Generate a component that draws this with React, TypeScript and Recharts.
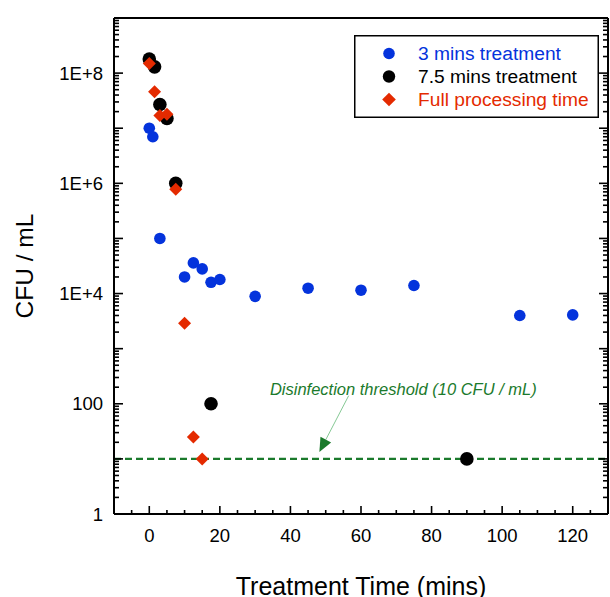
import { ScatterChart, Scatter, XAxis, YAxis, ReferenceLine, ReferenceDot, Legend } from "recharts"

const FONT = "Arial, 'Liberation Sans', sans-serif"
const BLUE = "#0433dc"
const BLACK = "#000000"
const RED = "#e42a00"
const GREEN = "#1b7a2c"

// 3 mins treatment
const TIME_3 = [0, 1, 3, 10, 12.5, 15, 17.5, 20, 30, 45, 60, 75, 105, 120]
const CFU_3 = [1e7, 7e6, 1e5, 2e4, 3.6e4, 2.8e4, 1.6e4, 1.8e4, 8.9e3, 1.25e4, 1.15e4, 1.4e4, 4e3, 4.1e3]

// 7.5 mins treatment
const TIME_75 = [0, 1.5, 3, 5, 7.5, 17.5, 90]
const CFU_75 = [1.8e8, 1.3e8, 2.7e7, 1.5e7, 1e6, 100, 10]

// full processing time
const TIME_FULL = [0, 1.5, 3, 5, 7.5, 10, 12.5, 15]
const CFU_FULL = [1.5e8, 4.6e7, 1.7e7, 1.8e7, 7.8e5, 2.9e3, 25, 10]

const SERIES_NAMES = ["3 mins treatment", "7.5 mins treatment", "Full processing time"]
const SERIES_COLORS = [BLUE, BLACK, RED]

const THRESHOLD = 10
const NOTE = "Disinfection threshold (10 CFU / mL)"
const NOTE_AT = { x: 72, y: 186 }
const ARROW_FROM = { x: 56.5, y: 140 }
const ARROW_TO = { x: 48.2, y: 13.3 }

const X_TICKS = [-10, -5, 0, 5, 10, 15, 20, 25, 30, 35, 40, 45, 50, 55, 60, 65, 70, 75, 80, 85, 90, 95, 100, 105, 110, 115, 120, 125, 130]
const X_LABELS = [0, 20, 40, 60, 80, 100, 120]
const Y_DECADES = [1, 10, 100, 1e3, 1e4, 1e5, 1e6, 1e7, 1e8, 1e9]
const Y_LABELS: Record<number, string> = { 1: "1", 100: "100", 10000: "1E+4", 1000000: "1E+6", 100000000: "1E+8" }
const Y_TICKS = Y_DECADES.flatMap((d) => (d === 1e9 ? [d] : [1, 2, 3, 4, 5, 6, 7, 8, 9].map((m) => m * d)))

const toPoints = (xs: number[], ys: number[]) => xs.map((t, i) => ({ t, cfu: ys[i] }))

const isDecade = (v: number) => Y_DECADES.includes(v)

function BottomTick({ x, y, payload }: any) {
  const v = payload.value
  const len = v % 20 === 0 ? 8 : 4
  return (
    <g>
      <line x1={x} x2={x} y1={y} y2={y - len} stroke="#000" strokeWidth={1.6} />
      {X_LABELS.includes(v) && (
        <text x={x} y={y + 21} textAnchor="middle" dominantBaseline="central" fontSize={18.5} fontFamily={FONT} fill="#000">
          {v}
        </text>
      )}
    </g>
  )
}

function TopTick({ x, y, payload }: any) {
  const len = payload.value % 20 === 0 ? 8 : 4
  return <line x1={x} x2={x} y1={y} y2={y + len} stroke="#000" strokeWidth={1.6} />
}

function LeftTick({ x, y, payload }: any) {
  const v = payload.value
  const len = isDecade(v) ? 9 : 5
  return (
    <g>
      <line x1={x} x2={x + len} y1={y} y2={y} stroke="#000" strokeWidth={1.6} />
      {Y_LABELS[v] && (
        <text x={x - 11} y={y} textAnchor="end" dominantBaseline="central" fontSize={18.5} fontFamily={FONT} fill="#000">
          {Y_LABELS[v]}
        </text>
      )}
    </g>
  )
}

function RightTick({ x, y, payload }: any) {
  const len = isDecade(payload.value) ? 9 : 5
  return <line x1={x} x2={x - len} y1={y} y2={y} stroke="#000" strokeWidth={1.6} />
}

const circle = (r: number, color: string) => (p: any) => <circle cx={p.cx} cy={p.cy} r={r} fill={color} />
const diamond = (s: number, color: string) => (p: any) => (
  <polygon
    points={`${p.cx},${p.cy - s} ${p.cx + s},${p.cy} ${p.cx},${p.cy + s} ${p.cx - s},${p.cy}`}
    fill={color}
  />
)

function Arrow(p: any) {
  const { x1, y1, x2, y2 } = p
  const dx = x2 - x1
  const dy = y2 - y1
  const d = Math.sqrt(dx * dx + dy * dy)
  const ux = dx / d
  const uy = dy / d
  const hl = 14
  const hw = 6
  const bx = x2 - ux * hl
  const by = y2 - uy * hl
  return (
    <g>
      <line x1={x1} y1={y1} x2={bx} y2={by} stroke="#86c995" strokeWidth={1} />
      <polygon
        points={`${x2},${y2} ${bx - uy * hw},${by + ux * hw} ${bx + uy * hw},${by - ux * hw}`}
        fill={GREEN}
      />
    </g>
  )
}

function LegendBox() {
  const marks = [circle(5.8, BLUE), circle(6.2, BLACK), diamond(6.8, RED)]
  return (
    <svg width={245} height={83} style={{ display: "block" }}>
      <rect x={0.75} y={0.75} width={243.5} height={81.5} fill="#fff" stroke="#000" strokeWidth={1.5} />
      {SERIES_NAMES.map((name, i) => {
        const cy = 18.5 + i * 23
        return (
          <g key={name}>
            {marks[i]({ cx: 35, cy })}
            <text x={64} y={cy} dominantBaseline="central" fontSize={19.2} fontFamily={FONT} fill={SERIES_COLORS[i]}>
              {name}
            </text>
          </g>
        )
      })}
    </svg>
  )
}

export default function App() {
  return (
    <div style={{ position: "absolute", left: 0, top: 0 }}>
      <ScatterChart width={610} height={597} margin={{ top: 17, right: 0, bottom: 0, left: 0 }}>
        <XAxis
          xAxisId="b"
          type="number"
          dataKey="t"
          domain={[-10, 130]}
          ticks={X_TICKS}
          interval={0}
          allowDataOverflow
          height={83}
          tickSize={0}
          tickMargin={0}
          tickLine={false}
          tick={<BottomTick />}
          axisLine={{ stroke: "#000", strokeWidth: 2 }}
          label={{
            value: "Treatment Time (mins)",
            position: "insideBottom",
            offset: 2,
            style: { fontSize: 25, fontFamily: FONT, fill: "#000" },
          }}
        />
        <XAxis
          xAxisId="t"
          orientation="top"
          type="number"
          domain={[-10, 130]}
          ticks={X_TICKS}
          interval={0}
          allowDataOverflow
          height={1}
          tickSize={0}
          tickMargin={0}
          tickLine={false}
          tick={<TopTick />}
          axisLine={{ stroke: "#000", strokeWidth: 2 }}
        />
        <YAxis
          yAxisId="l"
          type="number"
          dataKey="cfu"
          scale="log"
          domain={[1, 1e9]}
          ticks={Y_TICKS}
          interval={0}
          allowDataOverflow
          width={114}
          tickSize={0}
          tickMargin={0}
          tickLine={false}
          tick={<LeftTick />}
          axisLine={{ stroke: "#000", strokeWidth: 2 }}
          label={{
            content: ({ viewBox }: any) => (
              <text
                x={viewBox.x + 24}
                y={viewBox.y + viewBox.height / 2}
                transform={`rotate(-90 ${viewBox.x + 24} ${viewBox.y + viewBox.height / 2})`}
                textAnchor="middle"
                dominantBaseline="central"
                fontSize={24.5}
                fontFamily={FONT}
                fill="#000"
              >
                CFU / mL
              </text>
            ),
          }}
        />
        <YAxis
          yAxisId="r"
          orientation="right"
          type="number"
          scale="log"
          domain={[1, 1e9]}
          ticks={Y_TICKS}
          interval={0}
          allowDataOverflow
          width={2}
          tickSize={0}
          tickMargin={0}
          tickLine={false}
          tick={<RightTick />}
          axisLine={{ stroke: "#000", strokeWidth: 2 }}
        />
        <Legend
          layout="vertical"
          align="center"
          verticalAlign="middle"
          wrapperStyle={{ left: 354, top: 35, width: 245, height: 83 }}
          content={() => <LegendBox />}
        />
        <Scatter
          name={SERIES_NAMES[0]}
          data={toPoints(TIME_3, CFU_3)}
          xAxisId="b"
          yAxisId="l"
          fill={BLUE}
          shape={circle(5.8, BLUE)}
          isAnimationActive={false}
        />
        <Scatter
          name={SERIES_NAMES[1]}
          data={toPoints(TIME_75, CFU_75)}
          xAxisId="b"
          yAxisId="l"
          fill={BLACK}
          shape={circle(6.8, BLACK)}
          isAnimationActive={false}
        />
        <Scatter
          name={SERIES_NAMES[2]}
          data={toPoints(TIME_FULL, CFU_FULL)}
          xAxisId="b"
          yAxisId="l"
          fill={RED}
          shape={diamond(6.5, RED)}
          isAnimationActive={false}
        />
        <ReferenceLine
          xAxisId="b"
          yAxisId="l"
          y={THRESHOLD}
          stroke={GREEN}
          strokeWidth={2.2}
          strokeDasharray="7 4"
        />
        <ReferenceLine
          xAxisId="b"
          yAxisId="l"
          segment={[
            { x: ARROW_FROM.x, y: ARROW_FROM.y },
            { x: ARROW_TO.x, y: ARROW_TO.y },
          ]}
          shape={Arrow}
        />
        <ReferenceDot
          xAxisId="b"
          yAxisId="l"
          x={NOTE_AT.x}
          y={NOTE_AT.y}
          r={0}
          shape={(p: any) => (
            <text
              x={p.cx}
              y={p.cy}
              textAnchor="middle"
              dominantBaseline="central"
              fontSize={16.5}
              fontStyle="italic"
              fontFamily={FONT}
              fill={GREEN}
            >
              {NOTE}
            </text>
          )}
        />
      </ScatterChart>
    </div>
  )
}
